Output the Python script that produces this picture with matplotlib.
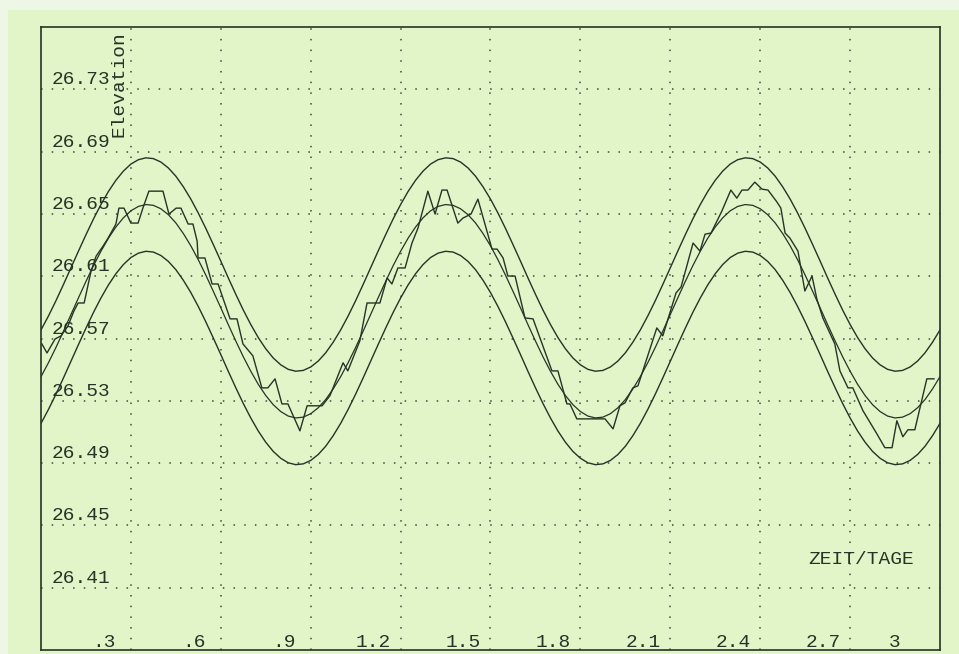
import matplotlib
matplotlib.use('Agg')
import matplotlib.pyplot as plt
from matplotlib.patches import Rectangle
from matplotlib.transforms import blended_transform_factory
import numpy as np

# predicted tide (smooth curve), sampled every 0.025 days from 0 to 3
pred_elev = [
    26.5455, 26.5545, 26.5643, 26.5747, 26.5854, 26.5961, 26.6066, 26.6167, 26.6260, 26.6344,
    26.6416, 26.6475, 26.6520, 26.6548, 26.6560, 26.6555, 26.6533, 26.6495, 26.6442, 26.6374,
    26.6295, 26.6205, 26.6107, 26.6003, 26.5897, 26.5789, 26.5684, 26.5583, 26.5490, 26.5406,
    26.5334, 26.5275, 26.5231, 26.5202, 26.5190, 26.5195, 26.5217, 26.5255, 26.5308, 26.5376,
    26.5455, 26.5545, 26.5643, 26.5747, 26.5854, 26.5961, 26.6066, 26.6167, 26.6260, 26.6344,
    26.6416, 26.6475, 26.6520, 26.6548, 26.6560, 26.6555, 26.6533, 26.6495, 26.6442, 26.6374,
    26.6295, 26.6205, 26.6107, 26.6003, 26.5897, 26.5789, 26.5684, 26.5583, 26.5490, 26.5406,
    26.5334, 26.5275, 26.5231, 26.5202, 26.5190, 26.5195, 26.5217, 26.5255, 26.5308, 26.5376,
    26.5455, 26.5545, 26.5643, 26.5747, 26.5854, 26.5961, 26.6066, 26.6167, 26.6260, 26.6344,
    26.6416, 26.6475, 26.6520, 26.6548, 26.6560, 26.6555, 26.6533, 26.6495, 26.6442, 26.6374,
    26.6295, 26.6205, 26.6107, 26.6003, 26.5897, 26.5789, 26.5684, 26.5583, 26.5490, 26.5406,
    26.5334, 26.5275, 26.5231, 26.5202, 26.5190, 26.5195, 26.5217, 26.5255, 26.5308, 26.5376,
    26.5455,
]
pred_time = np.linspace(0, 3, len(pred_elev))
band = 0.03  # tolerance band around the prediction

# measured water level (stepped line)
meas_time = [
    0.003, 0.020, 0.047, 0.067, 0.090, 0.110, 0.124, 0.144, 0.167, 0.184,
    0.207, 0.224, 0.250, 0.260, 0.277, 0.300, 0.324, 0.340, 0.360, 0.407,
    0.427, 0.451, 0.467, 0.491, 0.507, 0.521, 0.524, 0.547, 0.571, 0.591,
    0.631, 0.654, 0.674, 0.707, 0.737, 0.757, 0.781, 0.804, 0.824, 0.864,
    0.888, 0.938, 0.964, 1.008, 1.024, 1.064, 1.088, 1.131, 1.155, 1.171,
    1.191, 1.215, 1.238, 1.258, 1.291, 1.315, 1.338, 1.355, 1.391, 1.408,
    1.435, 1.458, 1.505, 1.522, 1.542, 1.558, 1.582, 1.615, 1.642, 1.705,
    1.725, 1.755, 1.765, 1.788, 1.882, 1.909, 1.932, 1.949, 1.975, 1.992,
    2.055, 2.075, 2.119, 2.136, 2.176, 2.199, 2.216, 2.236, 2.272, 2.302,
    2.322, 2.339, 2.359, 2.382, 2.406, 2.426, 2.456, 2.469, 2.483, 2.499,
    2.526, 2.549, 2.573, 2.589, 2.609, 2.649, 2.666, 2.693, 2.709, 2.743,
    2.789, 2.816, 2.840, 2.856, 2.876, 2.893, 2.916, 2.956, 2.980,
]
meas_elev = [
    26.5665, 26.5607, 26.5697, 26.5717, 26.5781, 26.5877, 26.5928, 26.5928, 26.6133, 26.6229,
    26.6293, 26.6345, 26.6435, 26.6537, 26.6537, 26.6441, 26.6441, 26.6537, 26.6646, 26.6646,
    26.6499, 26.6537, 26.6537, 26.6435, 26.6435, 26.6326, 26.6217, 26.6217, 26.6050, 26.6050,
    26.5826, 26.5826, 26.5665, 26.5589, 26.5383, 26.5383, 26.5441, 26.5280, 26.5280, 26.5107,
    26.5268, 26.5268, 26.5332, 26.5544, 26.5492, 26.5685, 26.5928, 26.5928, 26.6089, 26.6050,
    26.6153, 26.6153, 26.6313, 26.6409, 26.6646, 26.6499, 26.6653, 26.6653, 26.6441, 26.6473,
    26.6499, 26.6595, 26.6274, 26.6274, 26.6217, 26.6101, 26.6101, 26.5832, 26.5826, 26.5492,
    26.5492, 26.5280, 26.5280, 26.5184, 26.5184, 26.5120, 26.5268, 26.5287, 26.5383, 26.5396,
    26.5768, 26.5717, 26.5992, 26.6031, 26.6313, 26.6261, 26.6370, 26.6377, 26.6518, 26.6653,
    26.6601, 26.6653, 26.6653, 26.6704, 26.6659, 26.6653, 26.6576, 26.6537, 26.6377, 26.6345,
    26.6261, 26.6005, 26.6101, 26.5954, 26.5832, 26.5665, 26.5492, 26.5383, 26.5383, 26.5236,
    26.5089, 26.4999, 26.4999, 26.5172, 26.5069, 26.5114, 26.5114, 26.5441, 26.5441,
]

x_grid = [0.3, 0.6, 0.9, 1.2, 1.5, 1.8, 2.1, 2.4, 2.7]
x_labels = ['.3', '.6', '.9', '1.2', '1.5', '1.8', '2.1', '2.4', '2.7', '3']
x_label_vals = [0.3, 0.6, 0.9, 1.2, 1.5, 1.8, 2.1, 2.4, 2.7, 3.0]
y_grid = [26.41, 26.45, 26.49, 26.53, 26.57, 26.61, 26.65, 26.69, 26.73]
y_labels = ['26.41', '26.45', '26.49', '26.53', '26.57', '26.61', '26.65', '26.69', '26.73']

paper = '#e1f5c8'
ink = '#263326'

fig = plt.figure(figsize=(9.59, 6.54), dpi=100, facecolor='#eef7e5')
fig.patches.append(Rectangle((8 / 959, 0), 1, 644 / 654, transform=fig.transFigure,
                             facecolor=paper, edgecolor='none', zorder=-10))
ax = fig.add_axes([41 / 959, 4 / 654, 899 / 959, 623 / 654])
ax.set_facecolor(paper)

pred = np.array(pred_elev)
ax.plot(pred_time, pred + band, color=ink, linewidth=1.0)
ax.plot(pred_time, pred, color=ink, linewidth=0.9)
ax.plot(pred_time, pred - band, color=ink, linewidth=1.0)
ax.plot(meas_time, meas_elev, color=ink, linewidth=1.0)

ax.set_xlim(0, 3)
ax.set_ylim(26.37, 26.77)
ax.set_xticks(x_grid)
ax.set_yticks(y_grid)
ax.tick_params(length=0, labelbottom=False, labelleft=False)
ax.grid(True, linestyle=(0, (1.0, 6.0)), color='#3e4a3e', linewidth=1.1)
for s in ax.spines.values():
    s.set_linewidth(1.2)
    s.set_color(ink)

font = dict(family=['Liberation Mono', 'DejaVu Sans Mono'], fontsize=14, color=ink)

# y labels sit just above their grid line
ty = blended_transform_factory(ax.transAxes, ax.transData)
for v, lab in zip(y_grid, y_labels):
    ax.annotate(lab, xy=(0.0445, v), xycoords=ty, xytext=(0, 3.6),
                textcoords='offset points', ha='center', va='baseline', **font)

# x labels inside the bottom edge, left of their grid line
tx = blended_transform_factory(ax.transData, ax.transAxes)
for v, lab in zip(x_label_vals, x_labels):
    xpos = v - 0.09 if v < 3 else 2.85
    ax.annotate(lab, xy=(xpos, 0), xycoords=tx, xytext=(0, 2.2),
                textcoords='offset points', ha='center', va='baseline', **font)

ax.text(0.0868, 0.8234, 'Elevation', transform=ax.transAxes, rotation=90,
        ha='center', va='bottom', **font)
ax.text(0.912, 0.138, 'ZEIT/TAGE', transform=ax.transAxes,
        ha='center', va='baseline', **font)

fig.savefig('out.png', dpi=100, facecolor=fig.get_facecolor())
